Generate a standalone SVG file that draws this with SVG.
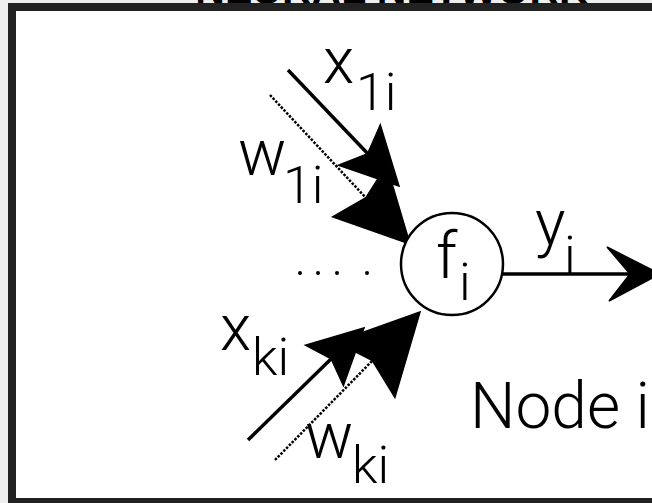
<svg xmlns="http://www.w3.org/2000/svg" width="652" height="503" viewBox="0 0 652 503">
  <style>
    .lbl { font-family: Roboto, "Liberation Sans", "DejaVu Sans", sans-serif; font-weight: 300; fill: #000; }
    .main { font-size: 64px; }
    .sub { font-size: 52px; }
    .wire { stroke: #000; stroke-width: 3.5; fill: none; stroke-linecap: butt; }
    .weight { stroke: #000; stroke-width: 2.5; fill: none; stroke-dasharray: 2.5 1.5; }
    .head { fill: #000; stroke: #000; stroke-width: 1.5; stroke-linejoin: miter; }
  </style>

  <!-- page background -->
  <rect x="0" y="0" width="652" height="503" fill="#eeeeee"/>

  <!-- heading (mostly hidden behind the frame) -->
  <text x="392" y="4" text-anchor="middle" font-family="'Liberation Sans', sans-serif" font-weight="bold" font-size="41" fill="#000">NEURAL NETWORK</text>

  <!-- framed panel -->
  <rect x="12" y="7" width="700" height="495" fill="#ffffff" stroke="#222222" stroke-width="8"/>

  <!-- connectors -->
  <g id="connectors">
    <!-- input x_1i and weight w_1i -->
    <line class="wire" x1="288" y1="70" x2="369" y2="155"/>
    <line class="weight" x1="270" y1="95" x2="367" y2="199"/>
    <polygon class="head" points="399,186 338.5,165.2 367.7,153.6 380.3,124.8"/>
    <polygon class="head" points="410,244 332.7,216.8 365.9,197.7 386.6,165.4"/>

    <!-- input x_ki and weight w_ki -->
    <line class="wire" x1="248" y1="440" x2="332" y2="358"/>
    <line class="weight" x1="275" y1="460" x2="373" y2="360"/>
    <polygon class="head" points="364,328 343.4,385.4 331.2,358.9 305.5,345.1"/>
    <polygon class="head" points="420,312 394.9,397.4 372.4,360.6 336.2,341.9"/>

    <!-- output y_i -->
    <line class="wire" x1="503" y1="274" x2="632" y2="274"/>
    <polygon class="head" points="660,274 607,247 630,274 609,301"/>
  </g>

  <!-- elided inputs -->
  <g id="ellipsis" fill="#000">
    <circle cx="300" cy="273" r="2"/>
    <circle cx="318" cy="273" r="2"/>
    <circle cx="337" cy="273" r="2"/>
    <circle cx="367" cy="273" r="2"/>
  </g>

  <!-- node i -->
  <g id="node-i">
    <circle cx="452" cy="264" r="51" fill="#ffffff" stroke="#000" stroke-width="2.5"/>
    <text class="lbl main" x="436" y="278">f</text>
    <text class="lbl sub" x="459" y="300">i</text>
  </g>

  <!-- labels -->
  <g id="label-x1i">
    <text class="lbl main" x="323" y="83">x</text>
    <text class="lbl sub" x="356" y="110">1i</text>
  </g>
  <g id="label-w1i">
    <text class="lbl main" x="238" y="175">w</text>
    <text class="lbl sub" x="283" y="203">1i</text>
  </g>
  <g id="label-xki">
    <text class="lbl main" x="220" y="350">x</text>
    <text class="lbl sub" x="252" y="375">ki</text>
  </g>
  <g id="label-wki">
    <text class="lbl main" x="305" y="458">w</text>
    <text class="lbl sub" x="352" y="483">ki</text>
  </g>
  <g id="label-yi">
    <text class="lbl main" x="535" y="245">y</text>
    <text class="lbl sub" x="564" y="273">i</text>
  </g>
  <g id="label-node">
    <text class="lbl main" x="470" y="428">Node i</text>
  </g>
</svg>
